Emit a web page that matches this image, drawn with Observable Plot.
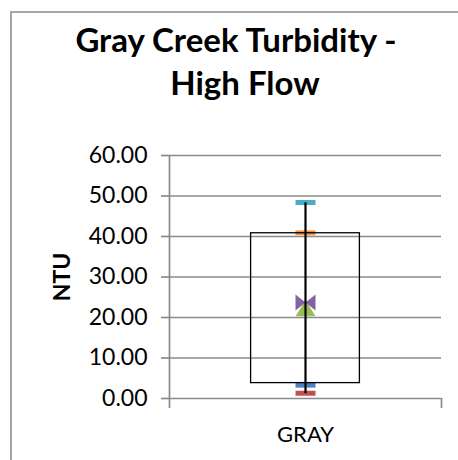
<!DOCTYPE html>
<html>
<head>
<meta charset="utf-8">
<script src="https://cdn.jsdelivr.net/npm/d3@7"></script>
<script src="https://cdn.jsdelivr.net/npm/@observablehq/plot@0.6"></script>
<style>
  html, body { margin: 0; padding: 0; background: #fff; }
  #wrap { position: relative; width: 458px; height: 460px; overflow: hidden; background: #fff; }
  #border { position: absolute; left: 10px; top: 11px; width: 600px; height: 600px;
            border-left: 2px solid #a6a6a6; border-top: 2px solid #a6a6a6; box-sizing: border-box; }
  #chart { position: absolute; left: 0; top: 0; }
</style>
</head>
<body>
<div id="wrap"><div id="border"></div><div id="chart"></div></div>
<script>
// ---- data ----
const titleLines = ["Gray Creek Turbidity -", "High Flow"];
const yLabel = "NTU";
const categories = ["GRAY"];
const yTicks = [0, 10, 20, 30, 40, 50, 60];
const whiskerLow = [1.2];
const whiskerHigh = [48.3];
const boxLow = [3.8];
const boxHigh = [40.8];
const maxVals = [48.4];
const q3Vals = [40.9];
const meanVals = [23.7];
const medianVals = [22.3];
const q1Vals = [3.3];
const minVals = [1.3];

// ---- styles ----
const colors = { max: "#4BACC6", q3: "#F79646", q1: "#4F81BD", min: "#C0504D", mean: "#8064A2", median: "#9BBB59" };
const gridColor = "#8a8a8a";

const dashSymbol = { draw(ctx) { ctx.rect(-10, -2.5, 20, 5); } };
const bowtieSymbol = { draw(ctx) {
  ctx.moveTo(-10, -8); ctx.lineTo(0, 0); ctx.lineTo(10, -8); ctx.lineTo(10, 8);
  ctx.lineTo(0, 0); ctx.lineTo(-10, 8); ctx.closePath(); } };
const triangleSymbol = { draw(ctx) {
  ctx.moveTo(0, -8); ctx.lineTo(10, 8); ctx.lineTo(-10, 8); ctx.closePath(); } };

const dashRows = [];
categories.forEach((c, i) => {
  dashRows.push({ x: i + 0.5, y: maxVals[i], color: colors.max });
  dashRows.push({ x: i + 0.5, y: q3Vals[i], color: colors.q3 });
  dashRows.push({ x: i + 0.5, y: q1Vals[i], color: colors.q1 });
  dashRows.push({ x: i + 0.5, y: minVals[i], color: colors.min });
});
const mid = (d, i) => i + 0.5;

const chart = Plot.plot({
  width: 458, height: 460,
  marginLeft: 169, marginRight: 17, marginTop: 155, marginBottom: 62,
  x: { domain: [0, categories.length] },
  y: { domain: [0, 60] },
  color: { type: "identity" },
  style: { fontFamily: "Lato, sans-serif", fontSize: "23px", color: "#000", background: "transparent" },
  marks: [
    Plot.ruleY(yTicks, { stroke: gridColor, strokeWidth: 1.7 }),
    Plot.ruleX([0], { stroke: gridColor, strokeWidth: 1.7 }),
    Plot.axisY({ ticks: yTicks, tickSize: 8, tickPadding: 14, tickFormat: d => d.toFixed(2),
                 stroke: gridColor, strokeWidth: 1.7, fill: "#000", label: null }),
    Plot.axisX({ ticks: d3.range(categories.length + 1), tickSize: 10, tickFormat: () => "",
                 stroke: gridColor, strokeWidth: 1.7, label: null }),
    Plot.axisX({ ticks: categories.map((c, i) => i + 0.5), tickSize: 0, tickPadding: 28,
                 tickFormat: v => categories[Math.floor(v)], fill: "#000", fontSize: 22, label: null }),
    Plot.text([yLabel], { frameAnchor: "left", dx: -107, rotate: -90, text: d => d,
                          fontWeight: "bold", fontSize: 23, textAnchor: "middle", lineAnchor: "middle", fill: "#000" }),
    Plot.dot(dashRows, { x: "x", y: "y", fill: "color", symbol: dashSymbol, r: 5, stroke: null }),
    Plot.dot(categories, { x: mid, y: (d, i) => medianVals[i], fill: colors.median, symbol: triangleSymbol, r: 5 }),
    Plot.dot(categories, { x: mid, y: (d, i) => meanVals[i], fill: colors.mean, symbol: bowtieSymbol, r: 5 }),
    Plot.rect(categories, { x1: (d, i) => i + 0.3, x2: (d, i) => i + 0.7, y1: (d, i) => boxLow[i], y2: (d, i) => boxHigh[i],
                            fill: "none", stroke: "#000", strokeWidth: 1.3 }),
    Plot.ruleX(categories, { x: mid, y1: (d, i) => whiskerLow[i], y2: (d, i) => whiskerHigh[i], stroke: "#000", strokeWidth: 2.2 })
  ]
});
document.getElementById("chart").appendChild(chart);

const svg = d3.select(chart);
const titlePos = [[236, 51.7], [245, 95]];
titleLines.forEach((t, i) => {
  svg.append("text").attr("x", titlePos[i][0]).attr("y", titlePos[i][1])
    .attr("text-anchor", "middle").attr("font-family", "Lato, sans-serif")
    .attr("font-weight", "bold").attr("font-size", 33).attr("fill", "#000").text(t);
});
</script>
</body>
</html>
